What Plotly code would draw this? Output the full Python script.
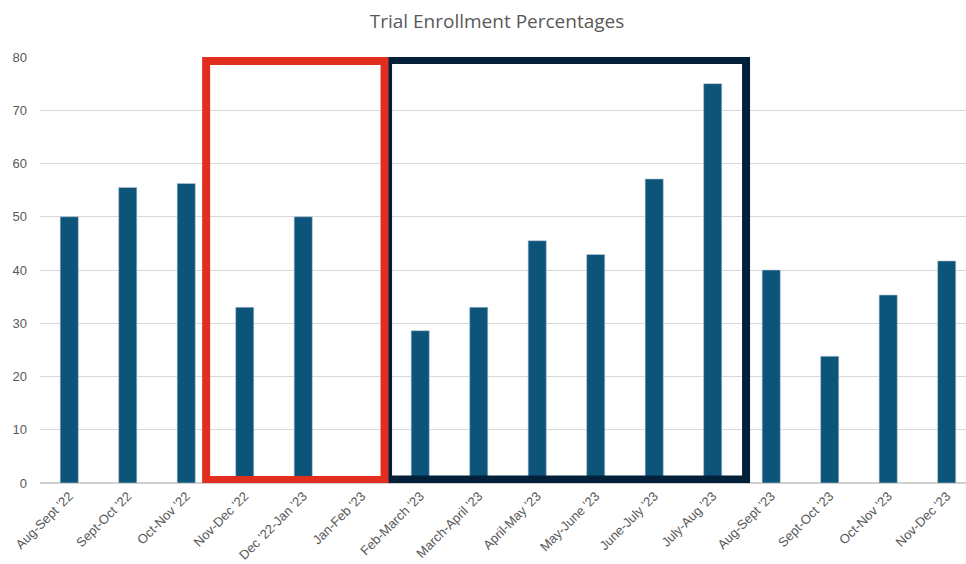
import plotly.graph_objects as go

categories = ["Aug-Sept '22", "Sept-Oct '22", "Oct-Nov '22", "Nov-Dec '22", "Dec '22-Jan '23",
              "Jan-Feb '23", "Feb-March '23", "March-April '23", "April-May '23", "May-June '23",
              "June-July '23", "July-Aug '23", "Aug-Sept '23", "Sept-Oct '23", "Oct-Nov '23",
              "Nov-Dec '23"]
values = [50, 55.5, 56.25, 33.0, 50, 0, 28.6, 33.0, 45.5, 42.9, 57.1, 75, 40, 23.8, 35.3, 41.7]
y_ticks = [0, 10, 20, 30, 40, 50, 60, 70, 80]

fig = go.Figure()
fig.add_trace(go.Bar(
    x=list(range(len(categories))), y=values,
    width=0.31,
    marker=dict(color="#0C5479", line=dict(color="#B8C8D6", width=0.6)),
    hoverinfo="skip",
))

# highlight boxes
fig.add_shape(type="rect", xref="x", yref="y", x0=5.45, x1=11.57, y0=0.66, y1=79.44,
              line=dict(color="#03203A", width=8), fillcolor="rgba(0,0,0,0)", layer="above")
fig.add_shape(type="rect", xref="x", yref="y", x0=2.34, x1=5.39, y0=0.56, y1=79.25,
              line=dict(color="#E12E1F", width=8), fillcolor="rgba(0,0,0,0)", layer="above")

fig.update_layout(
    width=966, height=564,
    margin=dict(l=40, r=0, t=57, b=81),
    paper_bgcolor="white", plot_bgcolor="white",
    showlegend=False,
    title=dict(text="Trial Enrollment Percentages", x=0.5145, xanchor="center",
               y=1 - 21/564, yanchor="middle",
               font=dict(family="Open Sans", size=19, color="#595959")),
    xaxis=dict(
        range=[-0.5, 15.33], automargin=False,
        tickmode="array", tickvals=list(range(len(categories))), ticktext=categories,
        tickangle=-45, showgrid=False, showline=False, zeroline=False,
        tickfont=dict(family="Liberation Sans", size=13, color="#595959"),
        ticks="", ticklabelstandoff=2,
    ),
    yaxis=dict(
        range=[0, 80], tickvals=y_ticks, automargin=False,
        showgrid=True, gridcolor="#D9D9D9", gridwidth=1,
        zeroline=True, zerolinecolor="#D0D0D0", zerolinewidth=1.5,
        showline=False, ticks="", ticklabelstandoff=12,
        tickfont=dict(family="Liberation Sans", size=13, color="#595959"),
    ),
)

fig.write_html("out.html")
